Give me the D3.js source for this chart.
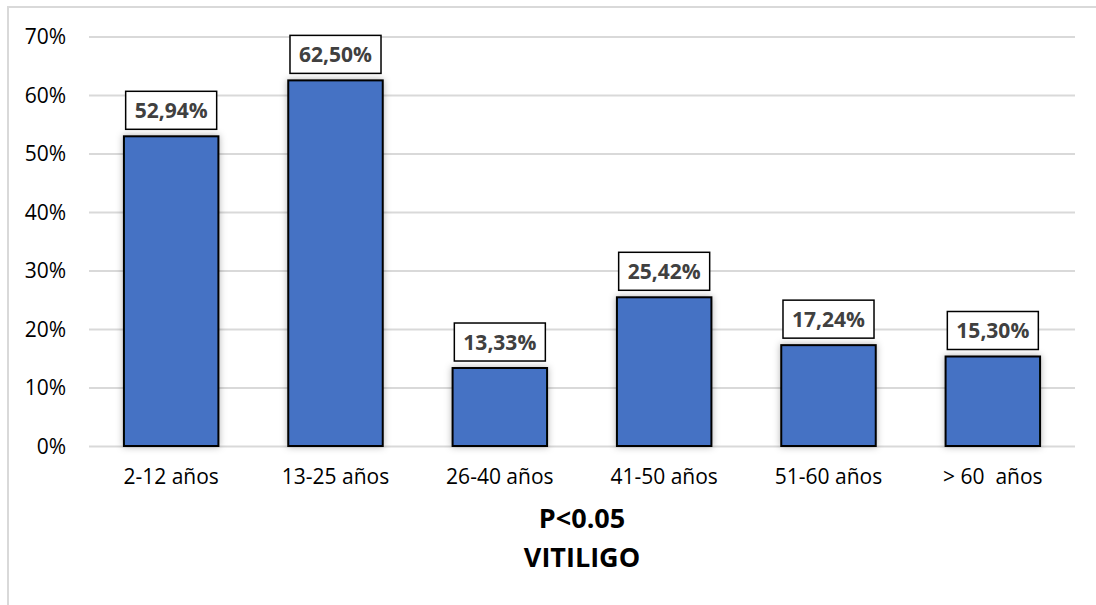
<!DOCTYPE html>
<html>
<head>
<meta charset="utf-8">
<script src="https://cdn.jsdelivr.net/npm/d3@7"></script>
<style>
  html, body { margin: 0; padding: 0; background: #fff; }
  svg { display: block; }
</style>
</head>
<body>
<svg id="chart" width="1096" height="605"></svg>
<script>
const categories = ["2-12 años", "13-25 años", "26-40 años", "41-50 años", "51-60 años", "> 60\u00a0 años"];
const values = [52.94, 62.50, 13.33, 25.42, 17.24, 15.30];
const valueLabels = ["52,94%", "62,50%", "13,33%", "25,42%", "17,24%", "15,30%"];
const yTicks = [0, 10, 20, 30, 40, 50, 60, 70];
const titleLines = ["P<0.05", "VITILIGO"];

const svg = d3.select("#chart");
const W = 1096, H = 605;
const x0 = 89, x1 = 1075;
const yTop = 36.5, yBottom = 446;

// outer chart border
svg.append("rect")
  .attr("x", 8).attr("y", 7)
  .attr("width", W + 20).attr("height", H + 20)
  .attr("fill", "none").attr("stroke", "#d9d9d9").attr("stroke-width", 2);

const x = d3.scaleBand().domain(categories).range([x0, x1]).paddingInner(0.425).paddingOuter(0.2125);
const y = d3.scaleLinear().domain([0, 70]).range([yBottom, yTop]);

const defs = svg.append("defs");
const f = defs.append("filter").attr("id", "glow")
  .attr("x", "-20%").attr("y", "-20%").attr("width", "140%").attr("height", "140%");
f.append("feDropShadow").attr("dx", 0).attr("dy", 0).attr("stdDeviation", 3.5)
  .attr("flood-color", "#000").attr("flood-opacity", 0.3);

// gridlines + y tick labels
const yAxis = d3.axisLeft(y).tickValues(yTicks).tickSize(-(x1 - x0)).tickFormat(d => d + "%").tickPadding(23);
const gy = svg.append("g").attr("transform", `translate(${x0},0)`).call(yAxis);
gy.select(".domain").remove();
gy.selectAll(".tick line").attr("stroke", "#d9d9d9").attr("stroke-width", 2);
gy.selectAll(".tick text")
  .attr("font-family", "'Open Sans', sans-serif").attr("font-size", 21)
  .attr("fill", "#000").attr("dy", "0.34em");

// bars
svg.append("g").selectAll("rect").data(values).join("rect")
  .attr("x", (d, i) => x(categories[i]))
  .attr("y", d => y(d))
  .attr("width", x.bandwidth())
  .attr("height", d => y(0) - y(d))
  .attr("fill", "#4472c4")
  .attr("stroke", "#000").attr("stroke-width", 2)
  .attr("filter", "url(#glow)");

// value labels with boxes
const lg = svg.append("g").selectAll("g").data(values).join("g")
  .attr("transform", (d, i) => `translate(${x(categories[i]) + x.bandwidth() / 2},${y(d) - 7})`);
lg.append("rect").attr("class", "box");
lg.append("text")
  .attr("text-anchor", "middle")
  .attr("y", -11.5)
  .attr("font-family", "'Open Sans', sans-serif").attr("font-weight", "bold").attr("font-size", 21)
  .attr("fill", "#404040")
  .text((d, i) => valueLabels[i]);
lg.each(function () {
  const g = d3.select(this);
  const bb = g.select("text").node().getBBox();
  const w = bb.width + 18, h = 38;
  g.select("rect.box")
    .attr("x", -w / 2).attr("y", -h).attr("width", w).attr("height", h)
    .attr("fill", "#fff").attr("stroke", "#000").attr("stroke-width", 1.5);
});

// category axis labels
const xAxis = d3.axisBottom(x).tickSize(0).tickPadding(0);
const gx = svg.append("g").attr("transform", `translate(0,${yBottom})`).call(xAxis);
gx.select(".domain").remove();
gx.selectAll(".tick text")
  .attr("font-family", "'Open Sans', sans-serif").attr("font-size", 21)
  .attr("fill", "#000").attr("dy", null).attr("y", 38)
  .style("white-space", "pre");

// title lines
svg.append("g").selectAll("text").data(titleLines).join("text")
  .attr("x", (x0 + x1) / 2)
  .attr("y", (d, i) => 528 + i * 39)
  .attr("text-anchor", "middle")
  .attr("font-family", "'Open Sans', sans-serif").attr("font-weight", "bold").attr("font-size", 27)
  .attr("fill", "#000")
  .text(d => d);
</script>
</body>
</html>
